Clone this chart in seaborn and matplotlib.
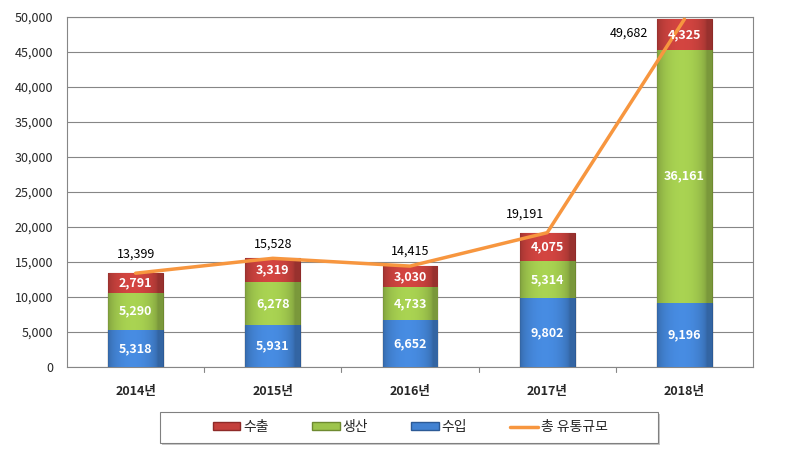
import numpy as np
import pandas as pd
import matplotlib
matplotlib.use("Agg")
import matplotlib.pyplot as plt
import seaborn as sns
from matplotlib.colors import to_rgb
from matplotlib.lines import Line2D
from matplotlib.patches import Patch, Rectangle

years = ["2014년", "2015년", "2016년", "2017년", "2018년"]
imports = [5318, 5931, 6652, 9802, 9196]      # 수입
production = [5290, 6278, 4733, 5314, 36161]  # 생산
exports = [2791, 3319, 3030, 4075, 4325]      # 수출
totals = [13399, 15528, 14415, 19191, 49682]  # 총 유통규모

sns.set_theme(style="white")
plt.rcParams['font.family'] = ['Noto Sans CJK KR', 'DejaVu Sans']

fig = plt.figure(figsize=(7.9, 4.55), dpi=100)
ax = fig.add_axes([67/790, 1-367/455, (753-67)/790, (367-17)/455])

df = pd.DataFrame({"year": years, "imp": imports, "prod": production, "exp": exports})
df["c2"] = df["imp"] + df["prod"]
df["c3"] = df["c2"] + df["exp"]

cols = {"exp": "#C4403C", "prod": "#9DC44C", "imp": "#4282D2"}
edges = {"exp": "#8E2A28", "prod": "#6E8A30", "imp": "#2C5A96"}

layers = [("c3", "exp"), ("c2", "prod"), ("imp", "imp")]
patch_groups = []
for col, key in layers:
    n_before = len(ax.patches)
    sns.barplot(data=df, x="year", y=col, color=cols[key], width=0.4,
                saturation=1, edgecolor=edges[key], linewidth=0.8, ax=ax, zorder=3)
    patch_groups.append((key, ax.patches[n_before:]))

# gradient overlay clipped to bars
def grad_img(base):
    r, g, b = to_rgb(base)
    xs = np.linspace(0, 1, 64)
    prof = 0.78 + 0.30 * np.sin(np.pi * np.clip(xs * 1.1, 0, 1)) ** 0.5
    img = np.zeros((2, 64, 3))
    for i, c in enumerate((r, g, b)):
        img[:, :, i] = np.clip(c * prof, 0, 1)
    return img

for key, patches in patch_groups:
    img = grad_img(cols[key])
    for p in patches:
        x0, y0 = p.get_x(), p.get_y()
        w, h = p.get_width(), p.get_height()
        im = ax.imshow(img, extent=[x0, x0 + w, y0, y0 + h], aspect="auto",
                       origin="lower", zorder=3.1, interpolation="bilinear")
        im.set_clip_path(p)

xs = np.arange(len(years))
sns.lineplot(x=xs, y=totals, color="#F7963F", linewidth=2.5, ax=ax, zorder=5,
             clip_on=False)

ax.set_xlim(-0.5, 4.5)
ax.set_ylim(0, 50000)
ax.set_yticks(np.arange(0, 50001, 5000))
ax.set_yticklabels([f"{v:,}" for v in range(0, 50001, 5000)], fontsize=9)
ax.set_xticks(xs)
ax.set_xticklabels(years, fontsize=9, fontweight="bold")
ax.tick_params(axis="x", length=0, pad=13)
ax.tick_params(axis="y", length=0, pad=10)
for b in np.arange(0.5, 4.5, 1):
    ax.plot([b, b], [0, -700], color="#868686", lw=0.8, clip_on=False)
ax.grid(axis="y", color="#868686", linewidth=0.8, zorder=0)
ax.set_axisbelow(True)
for s in ax.spines.values():
    s.set_color("#868686")
    s.set_linewidth(0.8)
ax.set_xlabel("")
ax.set_ylabel("")

# segment labels
for i in range(len(years)):
    for val, bot in ((imports[i], 0), (production[i], imports[i]),
                     (exports[i], imports[i] + production[i])):
        ax.text(i, bot + val / 2, f"{val:,}", ha="center", va="center",
                color="white", fontsize=9, fontweight="bold", zorder=6)

offsets = [(0, 14), (0, 10), (0, 11), (-16, 13), (-40, -10)]
for i, (t, off) in enumerate(zip(totals, offsets)):
    ax.annotate(f"{t:,}", (i, t), xytext=off, textcoords="offset points",
                ha="center", va="center", fontsize=9, color="black", zorder=6)

# legend box (drawn separately for Excel-like padding)
W, H = 790, 455
fig.patches.append(Rectangle(((160 + 2) / W, 1 - (443 + 2) / H), 498 / W, 31 / H,
                             transform=fig.transFigure, facecolor="#c8c8c8",
                             edgecolor="none", zorder=0))
fig.patches.append(Rectangle((160 / W, 1 - 443 / H), 498 / W, 31 / H,
                             transform=fig.transFigure, facecolor="white",
                             edgecolor="#808080", linewidth=0.8, zorder=1))

handles = [Patch(facecolor=cols["exp"], edgecolor=edges["exp"]),
           Patch(facecolor=cols["prod"], edgecolor=edges["prod"]),
           Patch(facecolor=cols["imp"], edgecolor=edges["imp"]),
           Line2D([0], [0], color="#F7963F", lw=2.5)]
labels = ["수출", "생산", "수입", "총 유통규모"]
leg = fig.legend(handles, labels, loc="center", bbox_to_anchor=(410 / W, 1 - 427 / H),
                 ncol=4, frameon=False, fontsize=10, handlelength=2.0,
                 handleheight=0.5, handletextpad=0.2, columnspacing=3.1)

fig.savefig("out.png", dpi=100)
